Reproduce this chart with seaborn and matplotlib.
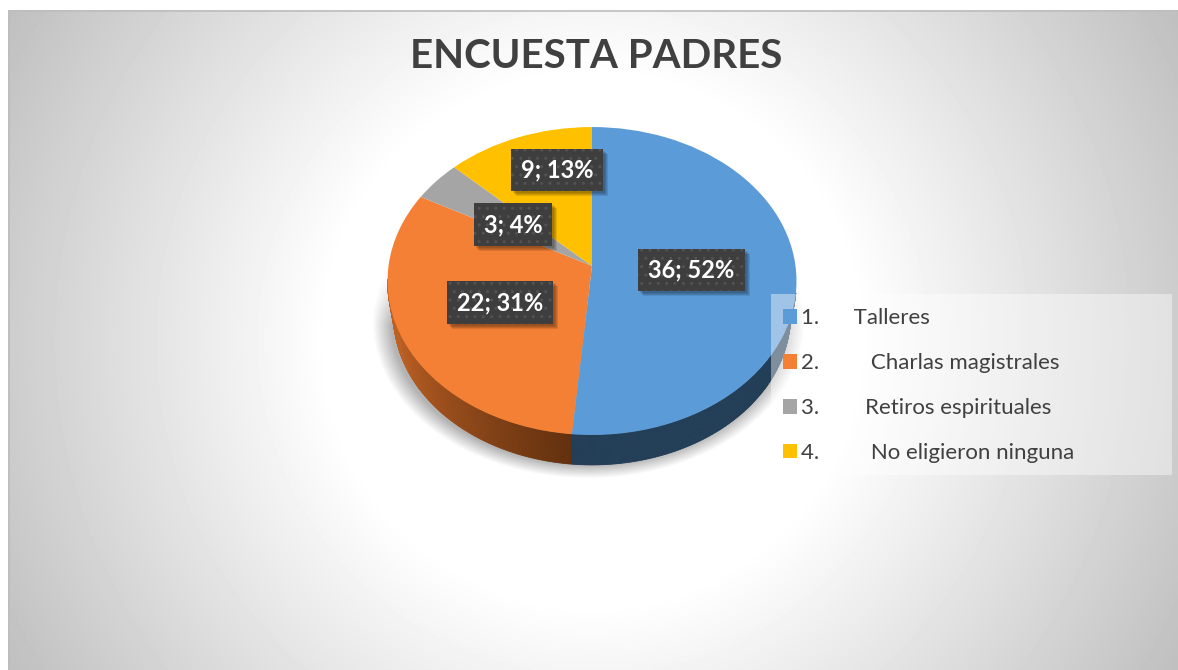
import numpy as np
import matplotlib
matplotlib.use('Agg')
import matplotlib.pyplot as plt
from matplotlib.patches import Rectangle
from matplotlib.transforms import Transform
import seaborn as sns

# chart data
title = 'ENCUESTA PADRES'
categories = ['Talleres', 'Charlas magistrales', 'Retiros espirituales', 'No eligieron ninguna']
legend_labels = ['1.      Talleres', '2.         Charlas magistrales',
                 '3.        Retiros espirituales', '4.         No eligieron ninguna']
values = [36, 22, 3, 9]
percents = [52, 31, 4, 13]
colors = ['#5B9BD7', '#F38034', '#A5A5A5', '#FFC000']

W, H = 1178, 670
APEX_X, APEX_Y = 592.0, 266.0
SCALE_X, SCALE_Y, TILT = 203.5, 152.5, 0.0974


class TiltTransform(Transform):
    # flat unit pie -> tilted disc in pixel coords
    input_dims = 2
    output_dims = 2
    is_separable = False

    def transform_non_affine(self, values):
        x, y = np.asarray(values).T
        w = 1 + TILT * y
        return np.column_stack([APEX_X + SCALE_X * x / w, APEX_Y - SCALE_Y * y / w])


sns.set_theme(style='white')
plt.rcParams['font.family'] = ['Lato', 'DejaVu Sans']

fig = plt.figure(figsize=(W / 100, H / 100), dpi=100, facecolor='white')
ax = fig.add_axes([0, 0, 1, 1])

# pie first, limits get reset afterwards
tilt = TiltTransform()
wedges, _ = ax.pie(values, colors=sns.color_palette(colors), startangle=90, counterclock=False,
                   wedgeprops={'linewidth': 0, 'zorder': 3})
for w in wedges:
    w.set_transform(tilt + ax.transData)
ax.set_aspect('auto')
ax.axis('off')

# slide background, circular grey fade
xx, yy = np.meshgrid(np.arange(8, W), np.arange(10, H))
r = np.hypot(xx - 592, yy - 340)
shade = 1 - 0.25 * np.clip((r - 265) / 405, 0, 1)
ax.imshow(shade, cmap='gray', vmin=0, vmax=1, extent=(8, W, H, 10), aspect='auto', zorder=0)
ax.plot([8.5, 8.5, W], [H, 10.5, 10.5], color='#BDBDBD', lw=1.2, zorder=1)

# soft shadow under the pie
rs = np.sqrt(((xx - 588) / 216) ** 2 + ((yy - 322) / 156) ** 2)
alpha = 0.3 * np.clip((1 - rs) / 0.09, 0, 1) * np.clip((yy - 265) / 60, 0, 1)
rgba = np.zeros(xx.shape + (4,))
rgba[..., 3] = alpha
ax.imshow(rgba, extent=(8, W, H, 10), aspect='auto', zorder=1.5)
ax.set_xlim(0, W)
ax.set_ylim(H, 0)

# side wall of the disc
angles = np.radians(np.linspace(100, 265, 331))
split = 2 * np.pi * values[0] / sum(values)
orange_left = np.array(matplotlib.colors.to_rgb('#BC6024'))
orange_low = np.array(matplotlib.colors.to_rgb('#62300E'))
top = tilt.transform(np.column_stack([np.sin(angles), np.cos(angles)]))
low = np.column_stack([APEX_X + (top[:, 0] - APEX_X) * 0.97, APEX_Y + (top[:, 1] - APEX_Y) * 0.97 + 35])
for i in range(len(angles) - 1):
    if angles[i] < split:
        c = '#233E57'
    else:
        f = (angles[i] - split) / (angles[-1] - split)
        c = orange_low + (orange_left - orange_low) * min(1, f * 1.3)
    ax.fill([top[i, 0], top[i + 1, 0], low[i + 1, 0], low[i, 0]],
            [top[i, 1], top[i + 1, 1], low[i + 1, 1], low[i, 1]],
            color=c, lw=0.6, zorder=2)

ax.text(596, 56, title, ha='center', va='center', fontsize=29, fontweight='bold', color='#404040')

# data labels
label_pos = [(691.5, 270), (500, 302.5), (513, 224.5), (557, 170)]
label_texts = []
for pos, v, p in zip(label_pos, values, percents):
    label_texts.append(ax.text(pos[0], pos[1], f'{v}; {p}%', ha='center', va='center', fontsize=17,
                               fontweight='bold', color='white', zorder=6,
                               bbox=dict(boxstyle='square,pad=0.42', fc='#3E3E3E', ec='#525252',
                                         hatch='..', lw=0)))

# label shadows, a few faint boxes sized from the drawn labels
fig.canvas.draw()
for t in label_texts:
    box = t.get_bbox_patch().get_window_extent()
    for off in (5, 4, 3, 2):
        ax.add_patch(Rectangle((box.x0 + off, H - box.y1 + off), box.width, box.height,
                               fc='black', alpha=0.1, lw=0, zorder=5.5))

# legend on a see-through panel
ax.add_patch(Rectangle((771, 294), 401, 181, fc='white', alpha=0.42, lw=0, zorder=4))
ax.legend(wedges, legend_labels, loc='upper left', bbox_to_anchor=(774 / W, 1 - 299 / H), frameon=False,
          fontsize=16, labelcolor='#404040', handlelength=0.63, handleheight=0.63, handletextpad=0.15,
          labelspacing=1.12, borderpad=0.42, borderaxespad=0).set_zorder(5)

fig.savefig('out.png', dpi=100)
